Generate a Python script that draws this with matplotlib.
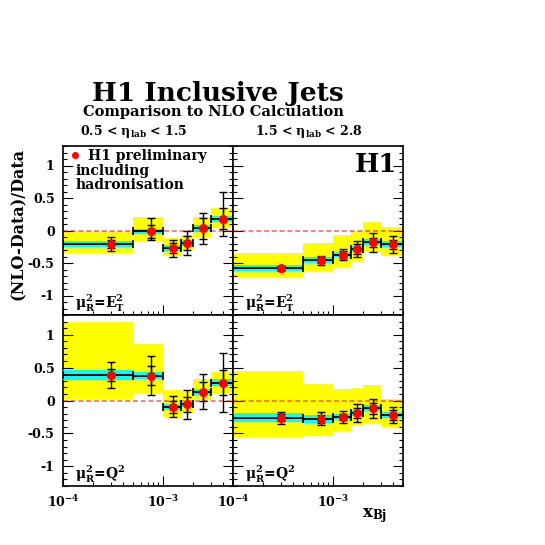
import numpy as np
import matplotlib.pyplot as plt
from matplotlib.ticker import FixedLocator, MultipleLocator, NullFormatter

plt.rcParams['font.family'] = 'DejaVu Serif'
plt.rcParams['font.weight'] = 'bold'
plt.rcParams['mathtext.fontset'] = 'custom'
plt.rcParams['mathtext.rm'] = 'DejaVu Serif:bold'
plt.rcParams['mathtext.it'] = 'DejaVu Serif:bold'
plt.rcParams['mathtext.bf'] = 'DejaVu Serif:bold'
plt.rcParams['axes.unicode_minus'] = False

# x_Bj bins
x_edges = [1e-4, 5e-4, 1e-3, 1.5e-3, 2e-3, 3e-3, 5e-3]
x_centres = [3e-4, 7.5e-4, 1.25e-3, 1.75e-3, 2.5e-3, 4e-3]

# 0.5 < eta < 1.5, mu_R^2 = E_T^2
a_val = [-0.21, -0.01, -0.27, -0.19, 0.035, 0.18]
a_stat = [0.06, 0.10, 0.08, 0.11, 0.16, 0.16]
a_tot_up = [0.11, 0.21, 0.13, 0.18, 0.24, 0.42]
a_tot_dn = [0.11, 0.14, 0.14, 0.19, 0.24, 0.27]
a_band = [0.045, 0.04, 0.04, 0.045, 0.045, 0.045]
a_scale_lo = [-0.35, -0.16, -0.39, -0.30, -0.10, 0.035]
a_scale_hi = [-0.015, 0.21, -0.12, -0.065, 0.21, 0.34]

# 1.5 < eta < 2.8, mu_R^2 = E_T^2
b_val = [-0.58, -0.46, -0.37, -0.28, -0.18, -0.21]
b_stat = [0.03, 0.04, 0.05, 0.08, 0.07, 0.07]
b_tot = [0.04, 0.065, 0.085, 0.12, 0.145, 0.13]
b_band = [0.045, 0.045, 0.045, 0.045, 0.045, 0.045]
b_scale_lo = [-0.71, -0.62, -0.555, -0.47, -0.33, -0.39]
b_scale_hi = [-0.35, -0.19, -0.065, 0.0, 0.13, 0.05]

# 0.5 < eta < 1.5, mu_R^2 = Q^2
c_val = [0.39, 0.38, -0.095, -0.06, 0.135, 0.27]
c_stat = [0.09, 0.15, 0.09, 0.11, 0.14, 0.19]
c_tot = [0.2, 0.3, 0.16, 0.22, 0.27, 0.45]
c_band = [0.075, 0.06, 0.045, 0.045, 0.045, 0.05]
c_scale_lo = [0.02, 0.11, -0.25, -0.19, 0.005, 0.11]
c_scale_hi = [1.2, 0.86, 0.16, 0.13, 0.33, 0.43]

# 1.5 < eta < 2.8, mu_R^2 = Q^2
d_val = [-0.26, -0.28, -0.25, -0.19, -0.12, -0.22]
d_stat = [0.05, 0.06, 0.05, 0.08, 0.08, 0.07]
d_tot = [0.09, 0.1, 0.09, 0.14, 0.15, 0.12]
d_band = [0.065, 0.055, 0.045, 0.045, 0.045, 0.045]
d_scale_lo = [-0.56, -0.54, -0.47, -0.39, -0.34, -0.41]
d_scale_hi = [0.45, 0.25, 0.17, 0.19, 0.23, 0.03]

eta_labels = [r'0.5 < $\eta_{lab}$ < 1.5', r'1.5 < $\eta_{lab}$ < 2.8']
scale_labels = [r'$\mu_R^2$=E$_T^2$', r'$\mu_R^2$=Q$^2$']

W = H = 545
fig = plt.figure(figsize=(5.45, 5.45), dpi=100)


def add_ax(x0, y0, x1, y1):
    return fig.add_axes([x0 / W, 1 - y1 / H, (x1 - x0) / W, (y1 - y0) / H])


def draw_panel(ax, val, stat, up, dn, band, s_lo, s_hi):
    lo = np.array(x_edges[:-1])
    hi = np.array(x_edges[1:])
    xc = np.array(x_centres)
    val = np.array(val)
    band = np.array(band)
    s_lo = np.array(s_lo)
    s_hi = np.array(s_hi)
    ax.bar(lo, s_hi - s_lo, width=hi - lo, bottom=s_lo, align='edge',
           color='yellow', lw=0, zorder=1)
    ax.axhline(0, color='red', alpha=0.5, ls=(0, (2.5, 1.5)), lw=1.4, zorder=2)
    ax.bar(lo, 2 * band, width=hi - lo, bottom=val - band, align='edge',
           color='cyan', lw=0, zorder=3)
    ax.errorbar(xc, val, xerr=[xc - lo, hi - xc], fmt='none', ecolor='black',
                elinewidth=1.4, capsize=3, capthick=1.2, zorder=4)
    ax.errorbar(xc, val, yerr=[dn, up], fmt='none', ecolor='black',
                elinewidth=1, capsize=3, capthick=1, zorder=5)
    ax.errorbar(xc, val, yerr=stat, fmt='none', ecolor='black',
                elinewidth=1, capsize=3, capthick=1, zorder=5)
    ax.plot(xc, val, 'o', color='red', ms=5.5, zorder=6)

    ax.set_xscale('log')
    ax.set_xlim(1e-4, 5e-3)
    ax.set_ylim(-1.3, 1.3)
    ax.xaxis.set_major_locator(FixedLocator([1e-4, 1e-3]))
    ax.xaxis.set_minor_locator(FixedLocator([2e-4, 3e-4, 4e-4, 5e-4, 6e-4, 7e-4, 8e-4, 9e-4,
                                             2e-3, 3e-3, 4e-3, 5e-3]))
    ax.xaxis.set_minor_formatter(NullFormatter())
    ax.yaxis.set_major_locator(FixedLocator([-1, -0.5, 0, 0.5, 1]))
    ax.yaxis.set_minor_locator(MultipleLocator(0.1))
    ax.tick_params(which='both', direction='in', top=False, right=True, width=0.8)
    ax.tick_params(which='major', length=7, labelsize=9, pad=6)
    ax.tick_params(which='minor', length=3)
    for sp in ax.spines.values():
        sp.set_linewidth(1.2)


panels = [
    ((63, 146, 233, 315), (a_val, a_stat, a_tot_up, a_tot_dn, a_band, a_scale_lo, a_scale_hi)),
    ((233, 146, 403, 315), (b_val, b_stat, b_tot, b_tot, b_band, b_scale_lo, b_scale_hi)),
    ((63, 315, 233, 486), (c_val, c_stat, c_tot, c_tot, c_band, c_scale_lo, c_scale_hi)),
    ((233, 315, 403, 486), (d_val, d_stat, d_tot, d_tot, d_band, d_scale_lo, d_scale_hi)),
]

for i, (box, data) in enumerate(panels):
    ax = add_ax(*box)
    draw_panel(ax, *data)
    if i in (0, 2):
        ax.set_yticklabels(['-1', '-0.5', '0', '0.5', '1'])
    else:
        ax.set_yticklabels([])
    if i in (2, 3):
        ax.set_xticklabels([r'$10^{-4}$', r'$10^{-3}$'])
    else:
        ax.set_xticklabels([])
    ax.text(0.07, 0.04, scale_labels[i // 2], transform=ax.transAxes,
            va='baseline', ha='left', fontsize=10)

# titles and labels
fig.text(218 / W, 1 - 93 / H, 'H1 Inclusive Jets', ha='center', va='center', fontsize=19)
fig.text(213 / W, 1 - 112 / H, 'Comparison to NLO Calculation', ha='center', va='center', fontsize=10.5)
fig.text(134 / W, 1 - 132 / H, eta_labels[0], ha='center', va='center', fontsize=9)
fig.text(309 / W, 1 - 132 / H, eta_labels[1], ha='center', va='center', fontsize=9)
fig.text(18 / W, 1 - 224 / H, '(NLO-Data)/Data', ha='center', va='center', rotation=90, fontsize=11.5)
fig.text(362 / W, 1 - 517 / H, r'x$_{Bj}$', ha='left', va='baseline', fontsize=12)

# legend and logo
fig.text(376 / W, 1 - 164 / H, 'H1', ha='center', va='center', fontsize=18.5)
fig.lines.append(plt.Line2D([75 / W], [1 - 155 / H], marker='o', color='red', ms=4,
                            transform=fig.transFigure, figure=fig))
fig.text(88 / W, 1 - 156 / H, 'H1 preliminary', ha='left', va='center', fontsize=10)
fig.text(76 / W, 1 - 171 / H, 'including', ha='left', va='center', fontsize=10)
fig.text(76 / W, 1 - 185 / H, 'hadronisation', ha='left', va='center', fontsize=10)

fig.savefig('out.png', dpi=100)
